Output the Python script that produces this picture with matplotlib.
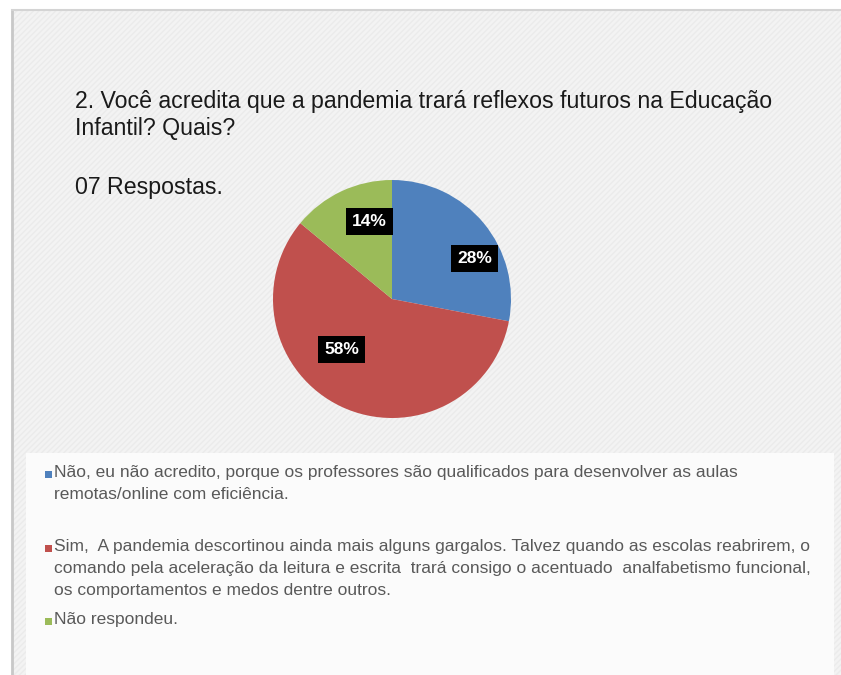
import matplotlib.pyplot as plt
from matplotlib.patches import Rectangle
import numpy as np

W, H = 841, 675

title = "2. Você acredita que a pandemia trará reflexos futuros na Educação\nInfantil? Quais?"
subtitle = "07 Respostas."

categories = [
    "Não, eu não acredito, porque os professores são qualificados para desenvolver as aulas\nremotas/online com eficiência.",
    "Sim,  A pandemia descortinou ainda mais alguns gargalos. Talvez quando as escolas reabrirem, o\n"
    "comando pela aceleração da leitura e escrita  trará consigo o acentuado  analfabetismo funcional,\n"
    "os comportamentos e medos dentre outros.",
    "Não respondeu.",
]
shares = [28, 58, 14]
colors = ["#4F81BD", "#C0504D", "#9BBB59"]

# label placement inside each wedge: (angle in degrees, fraction of radius)
label_pos = [(26, 0.77), (-135, 0.60), (106, 0.68)]
# top of each legend entry, in pixels from the top
legend_top = [465, 539, 612]

plt.rcParams["font.family"] = ["Liberation Sans", "DejaVu Sans"]

fig = plt.figure(figsize=(W / 100, H / 100), dpi=100)
fig.patch.set_facecolor("white")


def fx(x):
    return x / W


def fy(y):
    return 1 - y / H


# slide panel with faint diagonal texture
bg = fig.add_axes([0, 0, 1, 1])
bg.set_xlim(0, W)
bg.set_ylim(H, 0)
bg.axis("off")
bg.add_patch(Rectangle((12, 10), W - 12, H - 10, facecolor="#f3f3f3",
                       edgecolor="none"))
bg.add_patch(Rectangle((12, 10), W - 12, H - 10, facecolor="none",
                       edgecolor="#ebebeb", hatch="//////", linewidth=0))
bg.plot([12, 12], [10, H], color="#c8c8c8", lw=2)
bg.plot([12, W], [10, 10], color="#d4d4d4", lw=1.5)
# legend box
bg.add_patch(Rectangle((26, 453), 808, H - 453, facecolor="#fbfbfb",
                       edgecolor="none"))

fig.text(fx(75), fy(90), title, fontsize=16.7, color="#1a1a1a",
         va="top", ha="left", linespacing=1.25)
fig.text(fx(75), fy(176), subtitle, fontsize=16.7, color="#1a1a1a",
         va="top", ha="left")

# pie
ax = fig.add_axes([fx(273), fy(418), 238 / W, 238 / H])
wedges, _, autotexts = ax.pie(
    shares, colors=colors, startangle=90, counterclock=False,
    autopct="%.0f%%", radius=1,
    wedgeprops=dict(linewidth=0),
)
ax.set_xlim(-1, 1)
ax.set_ylim(-1, 1)
ax.set_aspect("equal")

for t, (ang, r) in zip(autotexts, label_pos):
    a = np.deg2rad(ang)
    t.set_position((r * np.cos(a), r * np.sin(a)))
    t.set_color("white")
    t.set_fontweight("bold")
    t.set_fontsize(12.5)
    t.set_bbox(dict(boxstyle="square,pad=0.35", facecolor="black",
                    edgecolor="none"))

# legend
for label, col, top in zip(categories, colors, legend_top):
    fig.text(fx(54), fy(top), label, fontsize=12.5, color="#595959",
             va="top", ha="left", linespacing=1.6)
    fig.patches.append(Rectangle((fx(45), fy(top + 13)), 7 / W, 7 / H,
                                 transform=fig.transFigure,
                                 facecolor=col, edgecolor="none"))

fig.savefig("out.png", dpi=100)
